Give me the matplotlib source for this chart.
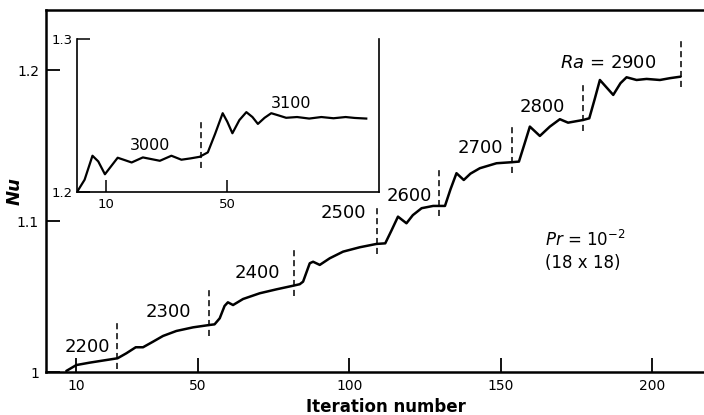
import matplotlib.pyplot as plt
import numpy as np

# Nusselt number history, Pr = 1e-2, 18 x 18 grid
main_iter = [6.7, 10.0, 14.4, 18.5, 23.6, 26.5, 29.6, 32.0, 35.3, 38.6,
             43.0, 48.5, 54.0, 55.6, 57.3, 58.9, 60.0, 61.7, 65.0, 70.5,
             76.0, 81.5, 83.7, 84.8, 87.0, 88.1, 90.3, 93.6, 98.0, 103.5,
             109.0, 111.9, 114.0, 116.1, 118.9, 121.0, 123.9, 127.7, 131.6,
             133.4, 135.4, 137.8, 140.0, 143.1, 148.6, 153.7, 156.0, 157.8,
             159.6, 162.9, 166.2, 169.5, 172.2, 177.2, 179.2, 181.0, 182.7,
             187.1, 189.5, 191.5, 194.8, 198.1, 202.5, 205.8, 209.3]
main_nu = [1.0007, 1.0046, 1.0062, 1.0075, 1.0091, 1.0124, 1.0164, 1.0164,
           1.0201, 1.0239, 1.0272, 1.0296, 1.0312, 1.0316, 1.0356, 1.0438,
           1.0462, 1.0444, 1.0484, 1.0522, 1.0548, 1.0572, 1.0582, 1.0599,
           1.0721, 1.0731, 1.0710, 1.0754, 1.0798, 1.0827, 1.0849, 1.0853,
           1.0940, 1.1030, 1.0986, 1.1040, 1.1086, 1.1101, 1.1101, 1.1210,
           1.1318, 1.1273, 1.1315, 1.1351, 1.1384, 1.1391, 1.1395, 1.1510,
           1.1627, 1.1565, 1.1627, 1.1676, 1.1653, 1.1671, 1.1682, 1.1810,
           1.1936, 1.1837, 1.1915, 1.1954, 1.1936, 1.1943, 1.1936, 1.1948,
           1.1958]

# iteration at which Ra was raised to the next value
switch_iter = [23.3, 53.8, 81.7, 109.3, 129.6, 153.8, 177.2, 209.4]
ra_labels = ["2200", "2300", "2400", "2500", "2600", "2700", "2800",
             "$\\mathit{Ra}$ = 2900"]

# continuation run (inset)
inset_iter = [0.5, 3.0, 5.6, 7.5, 9.7, 11.8, 13.9, 16.0, 18.5, 22.2, 25.0,
              27.8, 31.6, 34.9, 38.0, 40.9, 43.6, 46.0, 48.5, 50.0, 51.7,
              54.0, 56.3, 58.3, 60.1, 62.3, 64.5, 67.0, 69.4, 73.0, 77.0,
              81.0, 85.0, 89.0, 92.0, 95.8]
inset_nu = [1.2000, 1.2080, 1.2237, 1.2200, 1.2116, 1.2170, 1.2224, 1.2210,
            1.2193, 1.2226, 1.2215, 1.2204, 1.2237, 1.2211, 1.2220, 1.2230,
            1.2259, 1.2380, 1.2515, 1.2460, 1.2384, 1.2470, 1.2522, 1.2490,
            1.2445, 1.2485, 1.2515, 1.2500, 1.2485, 1.2490, 1.2480, 1.2490,
            1.2482, 1.2490, 1.2484, 1.2480]
inset_switch = 41.5
inset_labels = ["3000", "3100"]

# label anchors (right edge for main labels, centre for inset labels)
label_x = [21.0, 48.0, 77.1, 105.7, 127.2, 150.7, 171.2, 201.4]
label_y = [1.0168, 1.0400, 1.0655, 1.1052, 1.1167, 1.1483, 1.1755, 1.2047]
inset_label_x = [24.5, 71.0]
inset_label_y = [1.2303, 1.2577]

fig = plt.figure(figsize=(7.04, 4.15), dpi=100)
ax = fig.add_axes([46 / 704, 43 / 415, 670 / 704, 362 / 415])

ax.plot(main_iter, main_nu, color="black", lw=1.8, solid_joinstyle="round",
        solid_capstyle="round")

sw_nu = np.interp(switch_iter, main_iter, main_nu)
ax.vlines(switch_iter, sw_nu - 0.007, sw_nu + 0.024, colors="black",
          linestyles=(0, (4, 2.5)), lw=1.1)

for txt, x, y in zip(ra_labels, label_x, label_y):
    ax.text(x, y, txt, ha="right", va="center", fontsize=13)

ax.text(177.8, 1.0875, "$\\mathit{Pr}$ = 10$^{-2}$", ha="center",
        va="center", fontsize=12)
ax.text(177, 1.0721, "(18 x 18)", ha="center", va="center", fontsize=12)

ax.set_xlim(0, 221)
ax.set_ylim(1.0, 1.24)
ax.set_xticks([10, 50, 100, 150, 200])
ax.set_yticks([1.0, 1.1, 1.2])
ax.set_yticklabels(["1", "1.1", "1.2"])
ax.tick_params(direction="in", length=10, width=1.3, labelsize=10, pad=5)
ax.spines["right"].set_visible(False)
for s in ["left", "bottom", "top"]:
    ax.spines[s].set_linewidth(1.8)
ax.set_xlabel("Iteration number", fontsize=12, fontweight="bold")
ax.xaxis.set_label_coords(0.508, -0.072)
ax.set_ylabel("Nu", fontsize=13, fontstyle="italic", fontweight="bold")
ax.yaxis.set_label_coords(-0.033, 0.5)

# inset: runs at Ra = 3000 and 3100
ins = fig.add_axes([77 / 704, 223 / 415, 302 / 704, 153 / 415])
ins.plot(inset_iter, inset_nu, color="black", lw=1.6,
         solid_joinstyle="round")
y_sw = np.interp(inset_switch, inset_iter, inset_nu)
ins.vlines(inset_switch, y_sw - 0.008, y_sw + 0.024, colors="black",
           linestyles=(0, (4, 2.5)), lw=1.1)
for txt, x, y in zip(inset_labels, inset_label_x, inset_label_y):
    ins.text(x, y, txt, ha="center", va="center", fontsize=11.5)

ins.set_xlim(0.5, 100)
ins.set_ylim(1.2, 1.3)
ins.set_xticks([10, 50])
ins.set_yticks([1.2, 1.3])
ins.set_yticklabels(["1.2", "1.3"])
ins.tick_params(direction="in", length=9, width=1.1, labelsize=9.5, pad=4)
ins.tick_params(axis="y", pad=3)
ins.spines["top"].set_visible(False)
for s in ["left", "bottom", "right"]:
    ins.spines[s].set_linewidth(1.2)
ins.patch.set_alpha(0)

fig.savefig("out.png", dpi=100)
